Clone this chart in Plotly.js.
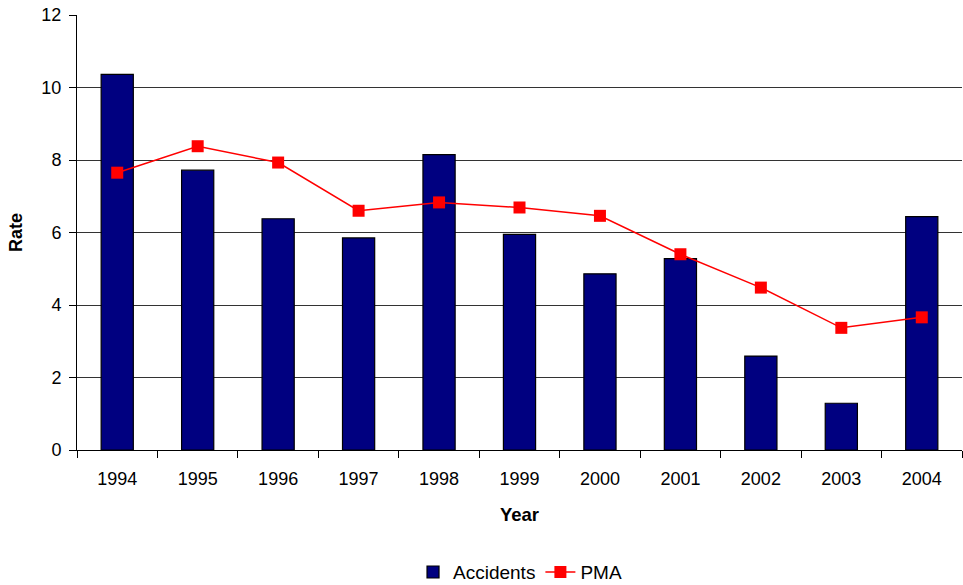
<!DOCTYPE html>
<html>
<head>
<meta charset="utf-8">
<script src="https://cdn.plot.ly/plotly-3.0.1.min.js"></script>
<style>html,body{margin:0;padding:0;background:#fff;}#chart{width:963px;height:585px;}</style>
</head>
<body>
<div id="chart"></div>
<script>
const years = ["1994","1995","1996","1997","1998","1999","2000","2001","2002","2003","2004"];
const accidents = [10.36, 7.72, 6.38, 5.85, 8.15, 5.95, 4.86, 5.28, 2.59, 1.29, 6.44];
const pma = [7.65, 8.38, 7.93, 6.60, 6.83, 6.69, 6.46, 5.40, 4.48, 3.37, 3.66];
const yTicks = [0, 2, 4, 6, 8, 10, 12];

const font = "Liberation Sans, Arial, sans-serif";

const traces = [
  {
    type: "bar", name: "Accidents", x: years, y: accidents,
    marker: {color: "#000080", line: {color: "#000000", width: 1.2}}
  },
  {
    type: "scatter", mode: "lines+markers", name: "PMA", x: years, y: pma,
    line: {color: "#ff0000", width: 1.5},
    marker: {color: "#ff0000", symbol: "square", size: 12}
  }
];

const layout = {
  width: 963, height: 585,
  margin: {l: 77, r: 1, t: 15, b: 135},
  paper_bgcolor: "#fff", plot_bgcolor: "#fff",
  font: {family: font, size: 18, color: "#000"},
  bargap: 0.6,
  showlegend: true,
  legend: {orientation: "h", x: 0.54, xref: "container", xanchor: "center",
           y: 0.022, yref: "container", yanchor: "middle",
           font: {family: font, size: 19, color: "#000"}, traceorder: "normal"},
  xaxis: {
    type: "category", range: [-0.5, 10.5], automargin: false,
    tickson: "boundaries", ticks: "outside", ticklen: 7, tickcolor: "#000",
    ticklabelstandoff: 12,
    showline: true, linecolor: "#000", linewidth: 1,
    showgrid: false,
    tickfont: {family: font, size: 18, color: "#000"},
    title: {text: "Year", font: {family: font, size: 18.5, color: "#000", weight: "bold"}, standoff: 20}
  },
  yaxis: {
    range: [0, 12], tickvals: yTicks, ticktext: yTicks.map(String), automargin: false,
    ticks: "outside", ticklen: 7, tickcolor: "#000",
    ticklabelstandoff: 4,
    showline: true, linecolor: "#000", linewidth: 1,
    showgrid: true, gridcolor: "#333", gridwidth: 1,
    zeroline: false,
    tickfont: {family: font, size: 18, color: "#000"},
    title: {text: "Rate", font: {family: font, size: 18, color: "#000", weight: "bold"}, standoff: 14}
  }
};

Plotly.newPlot("chart", traces, layout, {displayModeBar: false, staticPlot: true});
</script>
</body>
</html>
